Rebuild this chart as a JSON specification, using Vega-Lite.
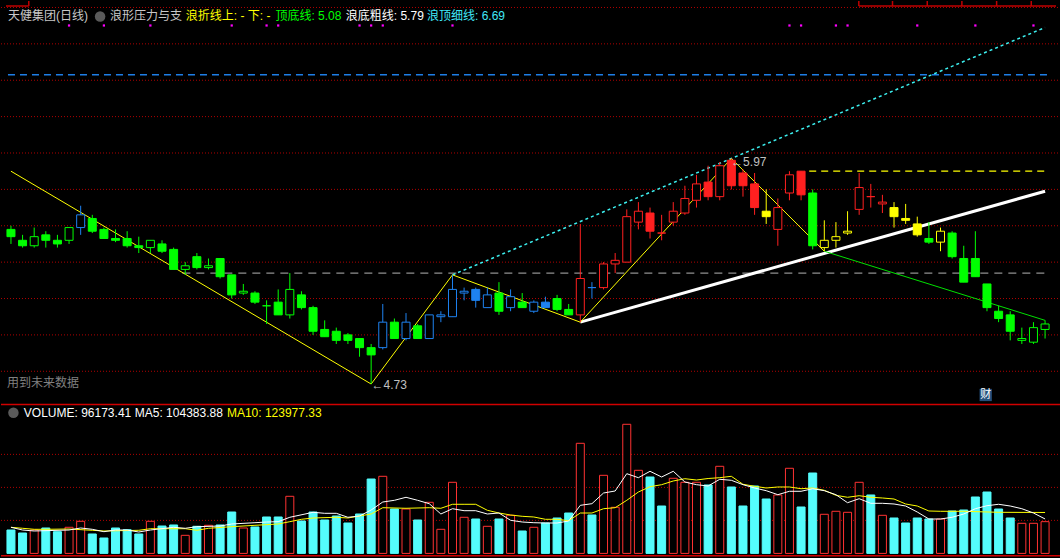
{
"$schema": "https://vega.github.io/schema/vega-lite/v6.json",
"background": "#000000",
"padding": 0,
"spacing": 0,
"config": {"view": {"stroke": null}, "axis": {"disable": true}, "legend": {"disable": true}},
"datasets": {
"k": [
{"i":1,"open":5.58,"high":5.60,"low":5.50,"close":5.54,"k":"g","vol":70900},
{"i":2,"open":5.52,"high":5.55,"low":5.48,"close":5.49,"k":"g","vol":61800},
{"i":3,"open":5.49,"high":5.59,"low":5.48,"close":5.54,"k":"g","vol":70900},
{"i":4,"open":5.55,"high":5.57,"low":5.48,"close":5.52,"k":"g","vol":77000},
{"i":5,"open":5.52,"high":5.55,"low":5.48,"close":5.50,"k":"g","vol":65800},
{"i":6,"open":5.52,"high":5.59,"low":5.50,"close":5.59,"k":"g","vol":79100},
{"i":7,"open":5.59,"high":5.71,"low":5.55,"close":5.66,"k":"b","vol":97300},
{"i":8,"open":5.64,"high":5.66,"low":5.56,"close":5.57,"k":"g","vol":58800},
{"i":9,"open":5.58,"high":5.59,"low":5.53,"close":5.53,"k":"g","vol":46700},
{"i":10,"open":5.53,"high":5.58,"low":5.51,"close":5.52,"k":"g","vol":77000},
{"i":11,"open":5.53,"high":5.57,"low":5.48,"close":5.49,"k":"g","vol":71800},
{"i":12,"open":5.49,"high":5.54,"low":5.45,"close":5.48,"k":"g","vol":58800},
{"i":13,"open":5.48,"high":5.52,"low":5.45,"close":5.52,"k":"g","vol":97300},
{"i":14,"open":5.50,"high":5.52,"low":5.45,"close":5.46,"k":"g","vol":83000},
{"i":15,"open":5.47,"high":5.48,"low":5.36,"close":5.36,"k":"g","vol":86100},
{"i":16,"open":5.36,"high":5.40,"low":5.33,"close":5.38,"k":"g","vol":54800},
{"i":17,"open":5.43,"high":5.45,"low":5.36,"close":5.37,"k":"g","vol":82100},
{"i":18,"open":5.37,"high":5.42,"low":5.36,"close":5.38,"k":"g","vol":85100},
{"i":19,"open":5.42,"high":5.42,"low":5.31,"close":5.32,"k":"g","vol":86100},
{"i":20,"open":5.33,"high":5.33,"low":5.20,"close":5.22,"k":"g","vol":125400},
{"i":21,"open":5.23,"high":5.28,"low":5.22,"close":5.24,"k":"g","vol":77000},
{"i":22,"open":5.23,"high":5.24,"low":5.17,"close":5.18,"k":"g","vol":80000},
{"i":23,"open":5.16,"high":5.19,"low":5.06,"close":5.16,"k":"g","vol":110300},
{"i":24,"open":5.18,"high":5.25,"low":5.11,"close":5.11,"k":"g","vol":110300},
{"i":25,"open":5.11,"high":5.34,"low":5.09,"close":5.25,"k":"g","vol":173000},
{"i":26,"open":5.22,"high":5.24,"low":5.14,"close":5.15,"k":"g","vol":98200},
{"i":27,"open":5.15,"high":5.16,"low":5.00,"close":5.02,"k":"g","vol":125400},
{"i":28,"open":5.03,"high":5.08,"low":4.99,"close":4.99,"k":"g","vol":101200},
{"i":29,"open":5.02,"high":5.04,"low":4.95,"close":4.97,"k":"g","vol":113300},
{"i":30,"open":5.00,"high":5.01,"low":4.95,"close":4.97,"k":"g","vol":92100},
{"i":31,"open":4.98,"high":4.98,"low":4.88,"close":4.93,"k":"g","vol":119400},
{"i":32,"open":4.93,"high":4.95,"low":4.73,"close":4.89,"k":"g","vol":225400},
{"i":33,"open":4.93,"high":5.17,"low":4.92,"close":5.07,"k":"b","vol":233600},
{"i":34,"open":5.07,"high":5.09,"low":4.98,"close":4.98,"k":"g","vol":134500},
{"i":35,"open":4.98,"high":5.12,"low":4.97,"close":5.07,"k":"b","vol":134500},
{"i":36,"open":5.05,"high":5.06,"low":4.98,"close":4.98,"k":"g","vol":101200},
{"i":37,"open":4.98,"high":5.11,"low":4.98,"close":5.11,"k":"b","vol":154800},
{"i":38,"open":5.10,"high":5.13,"low":5.07,"close":5.11,"k":"b","vol":73000},
{"i":39,"open":5.10,"high":5.33,"low":5.10,"close":5.25,"k":"b","vol":215400},
{"i":40,"open":5.23,"high":5.26,"low":5.19,"close":5.24,"k":"b","vol":109400},
{"i":41,"open":5.25,"high":5.26,"low":5.15,"close":5.19,"k":"b","vol":104200},
{"i":42,"open":5.15,"high":5.26,"low":5.15,"close":5.22,"k":"b","vol":82100},
{"i":43,"open":5.23,"high":5.29,"low":5.11,"close":5.13,"k":"g","vol":104200},
{"i":44,"open":5.15,"high":5.25,"low":5.13,"close":5.21,"k":"b","vol":115400},
{"i":45,"open":5.18,"high":5.23,"low":5.15,"close":5.15,"k":"g","vol":67900},
{"i":46,"open":5.13,"high":5.19,"low":5.12,"close":5.18,"k":"b","vol":79100},
{"i":47,"open":5.18,"high":5.21,"low":5.15,"close":5.15,"k":"b","vol":92100},
{"i":48,"open":5.20,"high":5.22,"low":5.13,"close":5.14,"k":"g","vol":107300},
{"i":49,"open":5.14,"high":5.17,"low":5.11,"close":5.11,"k":"g","vol":122400},
{"i":50,"open":5.11,"high":5.61,"low":5.07,"close":5.31,"k":"r","vol":333600},
{"i":51,"open":5.26,"high":5.29,"low":5.20,"close":5.26,"k":"b","vol":116400},
{"i":52,"open":5.26,"high":5.40,"low":5.25,"close":5.39,"k":"r","vol":236600},
{"i":53,"open":5.39,"high":5.45,"low":5.34,"close":5.41,"k":"r","vol":139700},
{"i":54,"open":5.40,"high":5.69,"low":5.40,"close":5.65,"k":"r","vol":391200},
{"i":55,"open":5.62,"high":5.73,"low":5.58,"close":5.68,"k":"r","vol":251800},
{"i":56,"open":5.67,"high":5.70,"low":5.53,"close":5.57,"k":"r","vol":231500},
{"i":57,"open":5.56,"high":5.66,"low":5.52,"close":5.56,"k":"r","vol":143600},
{"i":58,"open":5.62,"high":5.73,"low":5.60,"close":5.68,"k":"r","vol":227600},
{"i":59,"open":5.67,"high":5.82,"low":5.66,"close":5.75,"k":"r","vol":215400},
{"i":60,"open":5.74,"high":5.88,"low":5.70,"close":5.83,"k":"r","vol":215400},
{"i":61,"open":5.84,"high":5.93,"low":5.74,"close":5.76,"k":"r","vol":207300},
{"i":62,"open":5.76,"high":5.95,"low":5.74,"close":5.93,"k":"r","vol":263900},
{"i":63,"open":5.96,"high":5.97,"low":5.80,"close":5.82,"k":"r","vol":201200},
{"i":64,"open":5.89,"high":5.91,"low":5.76,"close":5.82,"k":"r","vol":143600},
{"i":65,"open":5.83,"high":5.89,"low":5.66,"close":5.70,"k":"r","vol":204200},
{"i":66,"open":5.68,"high":5.80,"low":5.61,"close":5.65,"k":"y","vol":164800},
{"i":67,"open":5.58,"high":5.75,"low":5.49,"close":5.70,"k":"r","vol":177000},
{"i":68,"open":5.78,"high":5.90,"low":5.74,"close":5.88,"k":"r","vol":257900},
{"i":69,"open":5.90,"high":5.90,"low":5.74,"close":5.77,"k":"r","vol":140600},
{"i":70,"open":5.78,"high":5.80,"low":5.47,"close":5.49,"k":"g","vol":243600},
{"i":71,"open":5.48,"high":5.63,"low":5.46,"close":5.52,"k":"y","vol":118500},
{"i":72,"open":5.52,"high":5.62,"low":5.48,"close":5.54,"k":"y","vol":127600},
{"i":73,"open":5.56,"high":5.68,"low":5.55,"close":5.57,"k":"y","vol":124500},
{"i":74,"open":5.69,"high":5.89,"low":5.66,"close":5.81,"k":"r","vol":215400},
{"i":75,"open":5.76,"high":5.83,"low":5.70,"close":5.76,"k":"r","vol":177000},
{"i":76,"open":5.72,"high":5.77,"low":5.67,"close":5.73,"k":"r","vol":115400},
{"i":77,"open":5.70,"high":5.73,"low":5.59,"close":5.65,"k":"y","vol":107300},
{"i":78,"open":5.64,"high":5.72,"low":5.61,"close":5.63,"k":"y","vol":92100},
{"i":79,"open":5.61,"high":5.65,"low":5.54,"close":5.55,"k":"y","vol":107300},
{"i":80,"open":5.53,"high":5.62,"low":5.50,"close":5.51,"k":"g","vol":104200},
{"i":81,"open":5.51,"high":5.59,"low":5.46,"close":5.57,"k":"y","vol":104200},
{"i":82,"open":5.56,"high":5.57,"low":5.42,"close":5.43,"k":"g","vol":128500},
{"i":83,"open":5.42,"high":5.49,"low":5.29,"close":5.29,"k":"g","vol":131500},
{"i":84,"open":5.42,"high":5.57,"low":5.32,"close":5.32,"k":"g","vol":170900},
{"i":85,"open":5.28,"high":5.28,"low":5.13,"close":5.15,"k":"g","vol":186000},
{"i":86,"open":5.13,"high":5.16,"low":5.07,"close":5.09,"k":"g","vol":134500},
{"i":87,"open":5.11,"high":5.13,"low":4.97,"close":5.02,"k":"g","vol":107300},
{"i":88,"open":4.97,"high":5.04,"low":4.95,"close":4.98,"k":"g","vol":91200},
{"i":89,"open":4.96,"high":5.07,"low":4.95,"close":5.04,"k":"g","vol":91200},
{"i":90,"open":5.03,"high":5.08,"low":4.98,"close":5.06,"k":"g","vol":96173.41}
],
"ma5": [
{"i":1,"v":79100},{"i":2,"v":70900},{"i":3,"v":67900},{"i":6,"v":70900},{"i":7,"v":77000},{"i":8,"v":73000},{"i":9,"v":65800},{"i":10,"v":70900},{"i":11,"v":70900},{"i":12,"v":64800},{"i":13,"v":70900},{"i":15,"v":79100},{"i":16,"v":76100},{"i":17,"v":80900},{"i":19,"v":83000},{"i":20,"v":89100},{"i":22,"v":93000},{"i":23,"v":95100},{"i":24,"v":96100},{"i":25,"v":109400},{"i":27,"v":124500},{"i":28,"v":121500},{"i":29,"v":121500},{"i":30,"v":109400},{"i":31,"v":113300},{"i":32,"v":131500},{"i":33,"v":155700},{"i":34,"v":160900},{"i":35,"v":170000},{"i":36,"v":160900},{"i":37,"v":150600},{"i":38,"v":119400},{"i":39,"v":135400},{"i":40,"v":129400},{"i":41,"v":129400},{"i":42,"v":119400},{"i":43,"v":122400},{"i":44,"v":100300},{"i":45,"v":95100},{"i":46,"v":93000},{"i":47,"v":92100},{"i":48,"v":92100},{"i":49,"v":98200},{"i":50,"v":145700},{"i":51,"v":150600},{"i":52,"v":183000},{"i":53,"v":189100},{"i":54,"v":241500},{"i":55,"v":229400},{"i":56,"v":248800},{"i":57,"v":231500},{"i":58,"v":248800},{"i":59,"v":216300},{"i":60,"v":208200},{"i":61,"v":204200},{"i":62,"v":224500},{"i":63,"v":221500},{"i":64,"v":208200},{"i":65,"v":198200},{"i":66,"v":190000},{"i":67,"v":177900},{"i":68,"v":188200},{"i":69,"v":188200},{"i":70,"v":196000},{"i":71,"v":190000},{"i":72,"v":177900},{"i":73,"v":153600},{"i":74,"v":165700},{"i":75,"v":151800},{"i":76,"v":151800},{"i":77,"v":149700},{"i":78,"v":143600},{"i":79,"v":125400},{"i":80,"v":104200},{"i":81,"v":104200},{"i":82,"v":109400},{"i":83,"v":119400},{"i":84,"v":135400},{"i":85,"v":144500},{"i":86,"v":148800},{"i":87,"v":143600},{"i":88,"v":135400},{"i":89,"v":122400},{"i":90,"v":104383.88}
],
"ma10": [
{"i":1,"v":79100},{"i":2,"v":76100},{"i":3,"v":73000},{"i":4,"v":73000},{"i":6,"v":73900},{"i":8,"v":70000},{"i":9,"v":67900},{"i":12,"v":70000},{"i":13,"v":74800},{"i":16,"v":74800},{"i":17,"v":70000},{"i":18,"v":76100},{"i":20,"v":80900},{"i":22,"v":85100},{"i":24,"v":89100},{"i":25,"v":96100},{"i":26,"v":103300},{"i":27,"v":107300},{"i":29,"v":109400},{"i":30,"v":107300},{"i":31,"v":113300},{"i":32,"v":119400},{"i":33,"v":138500},{"i":35,"v":136700},{"i":37,"v":138500},{"i":38,"v":136700},{"i":39,"v":148800},{"i":40,"v":148800},{"i":41,"v":148800},{"i":42,"v":130600},{"i":43,"v":122400},{"i":44,"v":116400},{"i":45,"v":112400},{"i":46,"v":110300},{"i":47,"v":103300},{"i":48,"v":103300},{"i":49,"v":99100},{"i":50,"v":122400},{"i":51,"v":122400},{"i":52,"v":135400},{"i":53,"v":138500},{"i":54,"v":160900},{"i":55,"v":186000},{"i":56,"v":202100},{"i":57,"v":208200},{"i":58,"v":219400},{"i":59,"v":226300},{"i":60,"v":222400},{"i":61,"v":226900},{"i":62,"v":229400},{"i":63,"v":233600},{"i":64,"v":209400},{"i":65,"v":203300},{"i":66,"v":198200},{"i":67,"v":201200},{"i":68,"v":201200},{"i":69,"v":196000},{"i":70,"v":198200},{"i":71,"v":191200},{"i":72,"v":176000},{"i":73,"v":170000},{"i":74,"v":174800},{"i":75,"v":170000},{"i":76,"v":167900},{"i":77,"v":164800},{"i":78,"v":149700},{"i":79,"v":143600},{"i":80,"v":128500},{"i":81,"v":127600},{"i":83,"v":127600},{"i":86,"v":124500},{"i":90,"v":123977.33}
]
},
"vconcat": [
{
"width": 1060, "height": 402,
"layer": [
{"data": {"values": [{"p":4.8},{"p":5.0},{"p":5.2},{"p":5.4},{"p":5.6},{"p":5.8},{"p":6.0},{"p":6.2},{"p":6.4},{"p":6.6},{"p":6.8}]},
 "mark": {"type": "rule", "color": "#b00000", "strokeDash": [1,2], "strokeWidth": 1},
 "encoding": {"y": {"field": "p", "type": "quantitative", "scale": {"domain": [4.6256, 6.8356], "nice": false, "zero": false}}}},
{"data": {"values": [{"a":0.744,"b":90.34,"p":6.43}]},
 "mark": {"type": "rule", "color": "#1e7ee6", "strokeDash": [7,5], "strokeWidth": 1.5},
 "encoding": {"x": {"field": "a", "type": "quantitative", "scale": {"domain": [0.5737, 90.94], "nice": false, "zero": false}}, "x2": {"field": "b"}, "y": {"field": "p", "type": "quantitative", "scale": {"domain": [4.6256, 6.8356], "nice": false, "zero": false}}}},
{"data": {"values": [{"a":15.75,"b":90.34,"p":5.34}]},
 "mark": {"type": "rule", "color": "#909090", "strokeDash": [8,6], "strokeWidth": 1.2},
 "encoding": {"x": {"field": "a", "type": "quantitative", "scale": {"domain": [0.5737, 90.94], "nice": false, "zero": false}}, "x2": {"field": "b"}, "y": {"field": "p", "type": "quantitative", "scale": {"domain": [4.6256, 6.8356], "nice": false, "zero": false}}}},
{"data": {"values": [{"a":69.7,"b":90.34,"p":5.90}]},
 "mark": {"type": "rule", "color": "#ffff00", "strokeDash": [7,5], "strokeWidth": 1.2},
 "encoding": {"x": {"field": "a", "type": "quantitative", "scale": {"domain": [0.5737, 90.94], "nice": false, "zero": false}}, "x2": {"field": "b"}, "y": {"field": "p", "type": "quantitative", "scale": {"domain": [4.6256, 6.8356], "nice": false, "zero": false}}}},
{"data": {"values": [{"i":39,"p":5.33},{"i":63,"p":5.97},{"i":90,"p":6.69}]},
 "mark": {"type": "line", "color": "#3cf0f0", "strokeDash": [3,3], "strokeWidth": 1.5},
 "encoding": {"x": {"field": "i", "type": "quantitative", "scale": {"domain": [0.5737, 90.94], "nice": false, "zero": false}}, "y": {"field": "p", "type": "quantitative", "scale": {"domain": [4.6256, 6.8356], "nice": false, "zero": false}}}},
{"data": {"values": [{"i":50,"p":5.07},{"i":90,"p":5.79}]},
 "mark": {"type": "line", "color": "#ffffff", "strokeWidth": 3},
 "encoding": {"x": {"field": "i", "type": "quantitative", "scale": {"domain": [0.5737, 90.94], "nice": false, "zero": false}}, "y": {"field": "p", "type": "quantitative", "scale": {"domain": [4.6256, 6.8356], "nice": false, "zero": false}}}},
{"data": {"values": [{"i":1,"p":5.90},{"i":32,"p":4.73},{"i":39,"p":5.33},{"i":50,"p":5.07},{"i":63,"p":5.97},{"i":71,"p":5.46}]},
 "mark": {"type": "line", "color": "#ffff00", "strokeWidth": 1},
 "encoding": {"x": {"field": "i", "type": "quantitative", "scale": {"domain": [0.5737, 90.94], "nice": false, "zero": false}}, "y": {"field": "p", "type": "quantitative", "scale": {"domain": [4.6256, 6.8356], "nice": false, "zero": false}}}},
{"data": {"values": [{"i":71,"p":5.46},{"i":90,"p":5.08}]},
 "mark": {"type": "line", "color": "#00e000", "strokeWidth": 1},
 "encoding": {"x": {"field": "i", "type": "quantitative", "scale": {"domain": [0.5737, 90.94], "nice": false, "zero": false}}, "y": {"field": "p", "type": "quantitative", "scale": {"domain": [4.6256, 6.8356], "nice": false, "zero": false}}}},
{"data": {"name": "k"},
 "mark": {"type": "rule", "strokeWidth": 1},
 "encoding": {"x": {"field": "i", "type": "quantitative", "scale": {"domain": [0.5737, 90.94], "nice": false, "zero": false}}, "y": {"field": "low", "type": "quantitative", "scale": {"domain": [4.6256, 6.8356], "nice": false, "zero": false}}, "y2": {"field": "high"},
  "stroke": {"field": "k", "type": "nominal", "scale": {"domain": ["g","b","r","y"], "range": ["#00ff00","#1e82f0","#ff2020","#ffff00"]}, "legend": null}}},
{"data": {"name": "k"},
 "mark": {"type": "bar", "width": 8, "strokeWidth": 1},
 "encoding": {"x": {"field": "i", "type": "quantitative", "scale": {"domain": [0.5737, 90.94], "nice": false, "zero": false}}, "y": {"field": "open", "type": "quantitative", "scale": {"domain": [4.6256, 6.8356], "nice": false, "zero": false}}, "y2": {"field": "close"},
  "stroke": {"field": "k", "type": "nominal", "scale": {"domain": ["g","b","r","y"], "range": ["#00ff00","#1e82f0","#ff2020","#ffff00"]}, "legend": null},
  "fill": {"condition": {"test": "datum.close > datum.open", "value": "#000000"}, "field": "k", "type": "nominal", "scale": {"domain": ["g","b","r","y"], "range": ["#00ff00","#1e82f0","#ff2020","#ffff00"]}, "legend": null}}},
{"data": {"values": [{"i":6},{"i":9},{"i":13},{"i":20},{"i":23},{"i":24},{"i":31},{"i":32},{"i":33},{"i":39},{"i":68},{"i":69},{"i":72},{"i":73},{"i":79},{"i":84},{"i":89}]},
 "mark": {"type": "point", "shape": "square", "size": 5, "filled": true, "color": "#ff00ff", "opacity": 1, "strokeWidth": 0},
 "encoding": {"x": {"field": "i", "type": "quantitative", "scale": {"domain": [0.5737, 90.94], "nice": false, "zero": false}}, "y": {"datum": 6.701, "type": "quantitative", "scale": {"domain": [4.6256, 6.8356], "nice": false, "zero": false}}}},
{"data": {"values": [{"a":0.5737,"b":2.535,"p":6.8081,"q":6.8081},{"a":2.535,"b":2.535,"p":6.8356,"q":6.8081},{"a":73.97,"b":90.94,"p":6.8081,"q":6.8081},{"a":73.97,"b":73.97,"p":6.8356,"q":6.8081},{"a":76.87,"b":76.87,"p":6.8356,"q":6.8081},{"a":79.86,"b":79.86,"p":6.8356,"q":6.8081},{"a":82.84,"b":82.84,"p":6.8356,"q":6.8081},{"a":85.83,"b":85.83,"p":6.8356,"q":6.8081},{"a":88.81,"b":88.81,"p":6.8356,"q":6.8081}]},
 "mark": {"type": "rule", "color": "#c00000", "strokeWidth": 1.5},
 "encoding": {"x": {"field": "a", "type": "quantitative", "scale": {"domain": [0.5737, 90.94], "nice": false, "zero": false}}, "x2": {"field": "b"}, "y": {"field": "p", "type": "quantitative", "scale": {"domain": [4.6256, 6.8356], "nice": false, "zero": false}}, "y2": {"field": "q"}}},
{"data": {"values": [{"i":8.673,"p":6.7504}]},
 "mark": {"type": "point", "shape": "circle", "size": 110, "filled": true, "color": "#5a5a5a", "opacity": 1},
 "encoding": {"x": {"field": "i", "type": "quantitative", "scale": {"domain": [0.5737, 90.94], "nice": false, "zero": false}}, "y": {"field": "p", "type": "quantitative", "scale": {"domain": [4.6256, 6.8356], "nice": false, "zero": false}}}},
{"data": {"values": [{"i":84.89,"p":4.6696}]},
 "mark": {"type": "point", "shape": "square", "size": 150, "filled": true, "color": "#24507c", "opacity": 1},
 "encoding": {"x": {"field": "i", "type": "quantitative", "scale": {"domain": [0.5737, 90.94], "nice": false, "zero": false}}, "y": {"field": "p", "type": "quantitative", "scale": {"domain": [4.6256, 6.8356], "nice": false, "zero": false}}}},
{"data": {"values": [{"i":84.89,"p":4.6696,"t":"财"}]},
 "mark": {"type": "text", "align": "center", "baseline": "middle", "font": "Noto Sans CJK SC", "fontSize": 11, "color": "#ffffff"},
 "encoding": {"x": {"field": "i", "type": "quantitative", "scale": {"domain": [0.5737, 90.94], "nice": false, "zero": false}}, "y": {"field": "p", "type": "quantitative", "scale": {"domain": [4.6256, 6.8356], "nice": false, "zero": false}}, "text": {"field": "t"}}},
{"data": {"values": [
 {"i":0.744,"p":6.7504,"t":"天健集团(日线)","g":"gray"},
 {"i":9.525,"p":6.7504,"t":"浪形压力与支","g":"gray"},
 {"i":16.047,"p":6.7504,"t":"浪折线上: - 下: -","g":"yellow"},
 {"i":23.763,"p":6.7504,"t":"顶底线: 5.08","g":"green"},
 {"i":29.816,"p":6.7504,"t":"浪底粗线: 5.79","g":"white"},
 {"i":36.806,"p":6.7504,"t":"浪顶细线: 6.69","g":"cyan"},
 {"i":0.659,"p":4.7372,"t":"用到未来数据","g":"dim"},
 {"i":32.03,"p":4.726,"t":"←4.73","g":"label"},
 {"i":62.98,"p":5.951,"t":"←5.97","g":"label"}]},
 "mark": {"type": "text", "align": "left", "baseline": "middle", "font": "Liberation Sans, Noto Sans CJK SC", "fontSize": 12},
 "encoding": {"x": {"field": "i", "type": "quantitative", "scale": {"domain": [0.5737, 90.94], "nice": false, "zero": false}}, "y": {"field": "p", "type": "quantitative", "scale": {"domain": [4.6256, 6.8356], "nice": false, "zero": false}}, "text": {"field": "t"},
  "color": {"field": "g", "type": "nominal", "scale": {"domain": ["gray","yellow","green","white","cyan","dim","label"], "range": ["#c8c8c8","#ffff00","#00ff00","#ffffff","#40e8f8","#808080","#c0c0c0"]}, "legend": null}}}
]
},
{
"width": 1060, "height": 156,
"layer": [
{"data": {"values": [{"v":100000},{"v":200000},{"v":300000}]},
 "mark": {"type": "rule", "color": "#b00000", "strokeDash": [1,2], "strokeWidth": 1},
 "encoding": {"y": {"field": "v", "type": "quantitative", "scale": {"domain": [-20000, 452682], "nice": false, "zero": false}}}},
{"data": {"values": [{"v":451500},{"v":-7000}]},
 "mark": {"type": "rule", "color": "#d00000", "strokeWidth": 1.5},
 "encoding": {"y": {"field": "v", "type": "quantitative", "scale": {"domain": [-20000, 452682], "nice": false, "zero": false}}}},
{"data": {"name": "k"},
 "mark": {"type": "bar", "width": 8, "strokeWidth": 1},
 "encoding": {"x": {"field": "i", "type": "quantitative", "scale": {"domain": [0.5737, 90.94], "nice": false, "zero": false}}, "y": {"field": "vol", "type": "quantitative", "scale": {"domain": [-20000, 452682], "nice": false, "zero": false}}, "y2": {"datum": 0},
  "fill": {"condition": {"test": "datum.close > datum.open", "value": "#000000"}, "value": "#54fcfc"},
  "stroke": {"condition": {"test": "datum.close > datum.open", "value": "#ff3232"}, "value": "#54fcfc"}}},
{"data": {"name": "ma10"},
 "mark": {"type": "line", "color": "#ffff00", "strokeWidth": 1},
 "encoding": {"x": {"field": "i", "type": "quantitative", "scale": {"domain": [0.5737, 90.94], "nice": false, "zero": false}}, "y": {"field": "v", "type": "quantitative", "scale": {"domain": [-20000, 452682], "nice": false, "zero": false}}}},
{"data": {"name": "ma5"},
 "mark": {"type": "line", "color": "#ffffff", "strokeWidth": 1},
 "encoding": {"x": {"field": "i", "type": "quantitative", "scale": {"domain": [0.5737, 90.94], "nice": false, "zero": false}}, "y": {"field": "v", "type": "quantitative", "scale": {"domain": [-20000, 452682], "nice": false, "zero": false}}}},
{"data": {"values": [{"i":1.213,"v":426300}]},
 "mark": {"type": "point", "shape": "circle", "size": 110, "filled": true, "color": "#5a5a5a", "opacity": 1},
 "encoding": {"x": {"field": "i", "type": "quantitative", "scale": {"domain": [0.5737, 90.94], "nice": false, "zero": false}}, "y": {"field": "v", "type": "quantitative", "scale": {"domain": [-20000, 452682], "nice": false, "zero": false}}}},
{"data": {"values": [
 {"i":2.108,"v":426300,"t":"VOLUME: 96173.41","g":"white"},
 {"i":11.656,"v":426300,"t":"MA5: 104383.88","g":"white"},
 {"i":19.585,"v":426300,"t":"MA10: 123977.33","g":"yellow"}]},
 "mark": {"type": "text", "align": "left", "baseline": "middle", "font": "Liberation Sans, Noto Sans CJK SC", "fontSize": 12},
 "encoding": {"x": {"field": "i", "type": "quantitative", "scale": {"domain": [0.5737, 90.94], "nice": false, "zero": false}}, "y": {"field": "v", "type": "quantitative", "scale": {"domain": [-20000, 452682], "nice": false, "zero": false}}, "text": {"field": "t"},
  "color": {"field": "g", "type": "nominal", "scale": {"domain": ["white","yellow"], "range": ["#ffffff","#ffff00"]}, "legend": null}}}
]
}
]
}
